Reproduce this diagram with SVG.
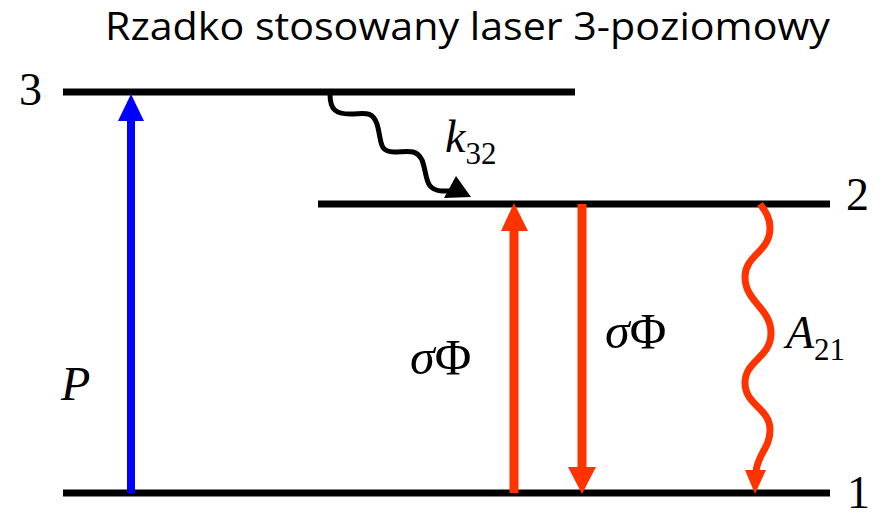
<svg xmlns="http://www.w3.org/2000/svg" width="879" height="519" viewBox="0 0 879 519">
<style>
.lvl{stroke:#000;stroke-width:7;fill:none}
.num{font-family:"Liberation Serif","Times New Roman",serif;font-size:46px;fill:#000}
.math{font-family:"Liberation Serif","Times New Roman",serif;fill:#000}
.it{font-style:italic}
.title{font-family:"Open Sans","Liberation Sans",sans-serif;font-size:38px;fill:#000}
.red{stroke:#FF3300;stroke-width:9;fill:none}
.redf{fill:#FF3300}
</style>
<rect width="879" height="519" fill="#fff"/>
<text class="title" x="105" y="40" textLength="725" lengthAdjust="spacingAndGlyphs">Rzadko stosowany laser 3-poziomowy</text>
<g id="level3">
<line class="lvl" x1="63" y1="92" x2="575" y2="92"/>
<text class="num" x="19" y="105">3</text>
</g>
<g id="level2">
<line class="lvl" x1="318" y1="204" x2="830" y2="204"/>
<text class="num" x="846" y="210">2</text>
</g>
<g id="level1">
<line class="lvl" x1="63" y1="493" x2="830" y2="493"/>
<text class="num" x="847" y="508">1</text>
</g>
<g id="connectors">
<g id="pump">
<line x1="131" y1="493" x2="131" y2="118" stroke="#0000FF" stroke-width="8"/>
<polygon points="131,94 118,121 144,121" fill="#0000FF"/>
</g>
<g id="k32-decay">
<path d="M330,94 C330,110 336,114 350,114 C364,114 372,110 377,124 C382,140 378,152 394,152 C406,152 416,148 422,160 C428,176 424,190 442,191 L455,191" stroke="#000" stroke-width="5" fill="none" stroke-linejoin="round"/>
<polygon points="456,176 471,197 444,198" fill="#000"/>
</g>
<g id="absorption">
<line class="red" x1="514" y1="493" x2="514" y2="228"/>
<polygon class="redf" points="514,203 501,231 528,231"/>
</g>
<g id="stimulated">
<line class="red" x1="582" y1="204" x2="582" y2="470"/>
<polygon class="redf" points="582,494 568,467 596,467"/>
</g>
<g id="spontaneous">
<path d="M760,204 C766,212 770,218 770,228 C770,252 745,255 745,277 C745,302 771,308 771,333 C771,358 745,360 745,383 C745,405 770,408 770,430 C770,448 757,455 756,472" stroke="#FF3300" stroke-width="7" fill="none"/>
<polygon class="redf" points="755,494 745,470 766,470"/>
</g>
</g>
<g id="labels">
<text class="math" x="445" y="152" font-size="46"><tspan class="it">k</tspan><tspan font-size="31" dy="12">32</tspan></text>
<text class="math" x="786" y="348" font-size="46"><tspan class="it">A</tspan><tspan font-size="31" dy="12">21</tspan></text>
<text class="math it" x="61" y="400" font-size="48">P</text>
<text class="math" x="410" y="374" font-size="50"><tspan class="it">σ</tspan>Φ</text>
<text class="math" x="605" y="348" font-size="50"><tspan class="it">σ</tspan>Φ</text>
</g>
</svg>
